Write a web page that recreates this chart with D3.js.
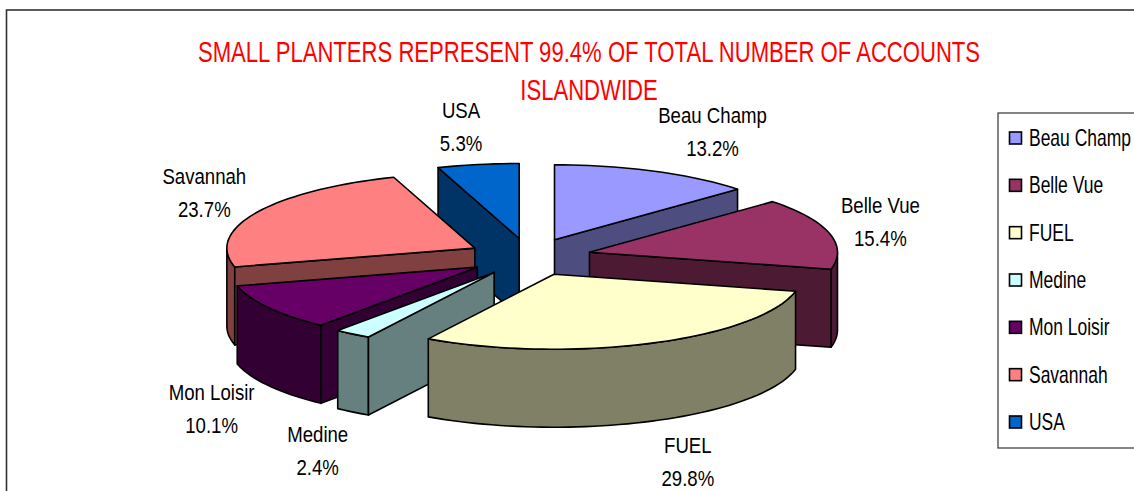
<!DOCTYPE html>
<html>
<head>
<meta charset="utf-8">
<script src="https://cdn.jsdelivr.net/npm/d3@7/dist/d3.min.js"></script>
<style>
html,body{margin:0;padding:0;background:#fff;overflow:hidden}
svg{display:block}
text{font-family:"Liberation Sans",Arial,sans-serif}
</style>
</head>
<body>
<svg id="c" width="1134" height="491"></svg>
<script>
const titleLines = ["SMALL PLANTERS REPRESENT 99.4% OF TOTAL NUMBER OF ACCOUNTS", "ISLANDWIDE"];
const categories = ["Beau Champ", "Belle Vue", "FUEL", "Medine", "Mon Loisir", "Savannah", "USA"];
const values = [13.2, 15.4, 29.8, 2.4, 10.1, 23.7, 5.3];
const topColors = ["#9999ff", "#993366", "#ffffcc", "#ccffff", "#660066", "#ff8080", "#0066cc"];
const sideColors = ["#4d4d80", "#4d1a33", "#808066", "#668080", "#330033", "#804040", "#003366"];

// layout
const W = 1134, H = 491;
const cx = 529.5, cy = 257, rx = 248, ry = 75, depth = 78, explode = 62 / 248;
const labelNudge = [[58, -39], [51, -11], [36, 41], [-35, 39], [-57, 23], [-52, -20], [-17, -38]];

const svg = d3.select("#c");
const x = d3.scaleLinear().domain([-1, 1]).range([cx - rx, cx + rx]);
const y = d3.scaleLinear().domain([-1, 1]).range([cy - ry, cy + ry]);

// condensed text: Liberation Sans squeezed horizontally
const narrowText = (sel, px, py, str, size, squeeze, anchor, fill) =>
  sel.append("text").attr("transform", `translate(${px},${py}) scale(${squeeze},1)`)
    .attr("text-anchor", anchor).attr("font-size", size).attr("fill", fill).text(str);

const arcs = d3.pie().value(d => d).sort(null)(values).map((d, i) => {
  const mid = (d.startAngle + d.endAngle) / 2;
  return { i, start: d.startAngle, end: d.endAngle, mid,
           ox: Math.sin(mid) * explode, oy: -Math.cos(mid) * explode };
});
const rim = (s, a) => [x(s.ox + Math.sin(a)), y(s.oy - Math.cos(a))];
const apex = s => [x(s.ox), y(s.oy)];
const angles = (a0, a1) => {
  const n = Math.max(1, Math.ceil((a1 - a0) / (Math.PI / 90)));
  return d3.range(n + 1).map(k => a0 + (a1 - a0) * k / n);
};
const line = d3.line();
const closed = p => line(p) + "Z";
const drop = p => [p[0], p[1] + depth];

// frame
svg.append("rect").attr("x", 6.5).attr("y", 10).attr("width", W + 20).attr("height", H + 20)
  .attr("fill", "#fff").attr("stroke", "#333").attr("stroke-width", 1.6);

// title
titleLines.forEach((t, i) => narrowText(svg, 589, 62 + i * 38, t, 29, 0.762, "middle", "#ff0000"));

// slices, back to front
const order = arcs.slice().sort((a, b) => d3.ascending(a.oy, b.oy));
const g = svg.append("g").attr("stroke", "#000").attr("stroke-width", 1.6).attr("stroke-linejoin", "round");
order.forEach(s => {
  const sg = g.append("g");
  const side = sideColors[s.i];
  const a0 = s.start, a1 = s.end;
  // outer wall on the front half
  const w0 = Math.max(a0, Math.PI / 2), w1 = Math.min(a1, 3 * Math.PI / 2);
  if (w1 > w0) {
    const tp = angles(w0, w1).map(a => rim(s, a));
    sg.append("path").attr("d", closed(tp.concat(tp.slice().reverse().map(drop)))).attr("fill", side);
  }
  // cut faces
  const cut = a => {
    const p = rim(s, a), c = apex(s);
    sg.append("path").attr("d", closed([c, p, drop(p), drop(c)])).attr("fill", side);
  };
  if (Math.sin(a0) < -1e-6) cut(a0);
  if (Math.sin(a1) > 1e-6) cut(a1);
  // top
  sg.append("path").attr("d", closed([apex(s)].concat(angles(a0, a1).map(a => rim(s, a)))))
    .attr("fill", topColors[s.i]);
});

// data labels
arcs.forEach(s => {
  const p = rim(s, s.mid);
  const wall = Math.cos(s.mid) < 0 ? depth : 0;
  const lx = p[0] + labelNudge[s.i][0], ly = p[1] + wall + labelNudge[s.i][1];
  narrowText(svg, lx, ly - 9, categories[s.i], 23, 0.81, "middle", "#000");
  narrowText(svg, lx, ly + 24, values[s.i].toFixed(1) + "%", 23, 0.81, "middle", "#000");
});

// legend
svg.append("rect").attr("x", 998).attr("y", 113).attr("width", 160).attr("height", 335)
  .attr("fill", "#fff").attr("stroke", "#333").attr("stroke-width", 1.2);
const ly = d3.scalePoint().domain(categories).range([138, 422]);
const lg = svg.selectAll("g.leg").data(categories).join("g").attr("class", "leg");
lg.append("rect").attr("x", 1009.5).attr("y", d => ly(d) - 6).attr("width", 12).attr("height", 12)
  .attr("fill", (d, i) => topColors[i]).attr("stroke", "#000").attr("stroke-width", 1.6);
categories.forEach(c => narrowText(lg.filter(d => d === c), 1029, ly(c) + 8, c, 23, 0.76, "start", "#000"));
</script>
</body>
</html>
